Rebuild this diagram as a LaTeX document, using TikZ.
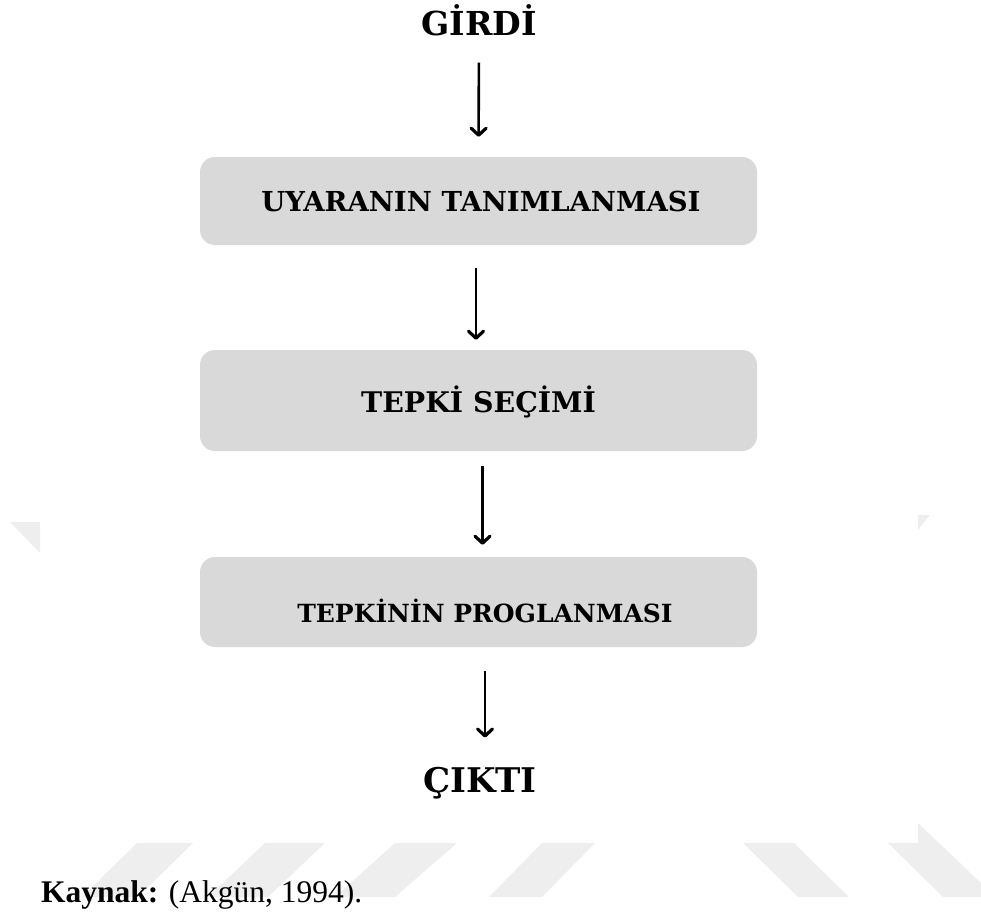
\documentclass[tikz,border=0pt]{standalone}
\usepackage{fontspec}
\setmainfont{Liberation Serif}
\newfontfamily\djserif{DejaVu Serif}
\usetikzlibrary{arrows.meta}
\definecolor{boxgray}{HTML}{D9D9D9}
\definecolor{wmgray}{HTML}{EEEEEE}
\tikzset{
  stepbox/.style={fill=boxgray, draw=none, rounded corners=15pt, minimum width=557pt, inner sep=0pt},
  boxtext/.style={font=\djserif\bfseries, inner sep=0pt, anchor=base},
  endtext/.style={font=\djserif\bfseries, inner sep=0pt, anchor=base},
  arr/.style={line width=2.6pt, -{Straight Barb[length=7pt,width=15pt,line width=3.2pt,round]}},
  wm/.style={fill=wmgray, draw=none}
}
\begin{document}
\begin{tikzpicture}[x=1pt,y=-1pt]
\useasboundingbox (0,0) rectangle (981,911);
% watermark pieces
\fill[wm] (137,843) -- (193,843) -- (138,897) -- (82,897) -- cycle;
\fill[wm] (265,843) -- (325,843) -- (268,897) -- (208,897) -- cycle;
\fill[wm] (395,843) -- (457,843) -- (395,897) -- (335,897) -- cycle;
\fill[wm] (542,843) -- (595,843) -- (542,897) -- (489,897) -- cycle;
\fill[wm] (743,843) -- (794,843) -- (849,897) -- (798,897) -- cycle;
\fill[wm] (888,843) -- (918,843) -- (918,823) -- (981,883) -- (981,897) -- (943,897) -- cycle;
\fill[wm] (10,522) -- (40,522) -- (40,553) -- cycle;
\fill[wm] (918,515) -- (930,515) -- (918,530) -- cycle;
% boxes
\node[stepbox, minimum height=88pt] (b1) at (478.5,201) {};
\node[stepbox, minimum height=101pt] (b2) at (478.5,400.5) {};
\node[stepbox, minimum height=90pt] (b3) at (478.5,602) {};
% texts
\node[endtext, font=\djserif\bfseries\fontsize{33}{38}\selectfont] (in) at (479,35) {GİRDİ};
\node[boxtext, font=\djserif\bfseries\fontsize{27.5}{31}\selectfont] (t1) at (481,211) {UYARANIN TANIMLANMASI};
\node[boxtext, font=\djserif\bfseries\fontsize{28.4}{32}\selectfont] (t2) at (478.5,412) {TEPKİ SEÇİMİ};
\node[boxtext, font=\djserif\bfseries\fontsize{25}{29}\selectfont] (t3) at (485,622) {TEPKİNİN PROGLANMASI};
\node[endtext, font=\djserif\bfseries\fontsize{34}{39}\selectfont] (out) at (480,792) {ÇIKTI};
\node[anchor=base west, inner sep=0pt, font=\fontsize{31.5}{35}\selectfont] (src) at (41,902) {\textbf{Kaynak:} (Akgün, 1994).};
% arrows
\draw[arr, shorten <=27pt, shorten >=20pt] (in.south) -- (b1.north);
\draw[arr, shorten <=23pt, shorten >=10pt] ([xshift=-2.5pt]b1.south) -- ([xshift=-2.5pt]b2.north);
\draw[arr, shorten <=15pt, shorten >=12pt] ([xshift=4pt]b2.south) -- ([xshift=4pt]b3.north);
\draw[arr, shorten <=24pt, shorten >=29pt] ([xshift=6.5pt]b3.south) -- ([xshift=6.5pt]b3.south |- out.north);
\end{tikzpicture}
\end{document}
